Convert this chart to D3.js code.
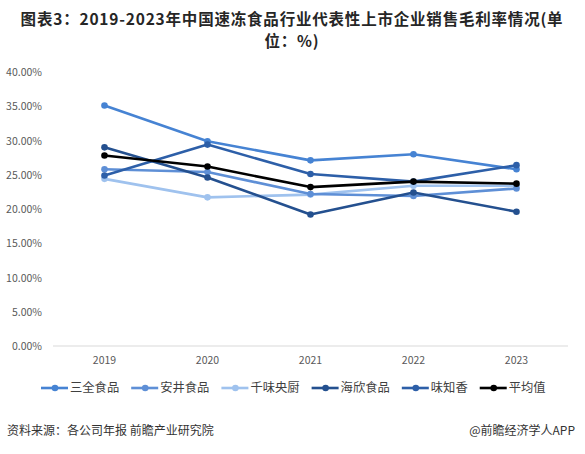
<!DOCTYPE html>
<html><head><meta charset="utf-8">
<script src="https://cdn.jsdelivr.net/npm/d3@7/dist/d3.min.js"></script>
<style>
html,body{margin:0;padding:0;background:#fff;}
svg{display:block;}
text{font-family:"Noto Sans CJK SC","Noto Sans",sans-serif;}
</style></head>
<body>
<script>
const years = ["2019","2020","2021","2022","2023"];
const seriesNames = ["三全食品","安井食品","千味央厨","海欣食品","味知香","平均值"];
const sanquan = [35.1, 29.9, 27.1, 28.0, 25.8];
const anjing  = [25.8, 25.4, 22.2, 21.9, 23.0];
const qianwei = [24.4, 21.7, 22.1, 23.4, 23.4];
const haixin  = [29.0, 24.6, 19.2, 22.4, 19.6];
const weizhixiang = [24.9, 29.4, 25.1, 24.0, 26.4];
const average = [27.8, 26.2, 23.2, 24.0, 23.7];
const yTicks = [0,5,10,15,20,25,30,35,40];
const colors = ["#4683d3","#5e8fd6","#9fc2ee","#24508f","#2d5fa8","#000000"];

const W = 585, H = 454;
const svg = d3.select("body").append("svg").attr("width", W).attr("height", H);

// title (two lines)
const titleLines = ["图表3：2019-2023年中国速冻食品行业代表性上市企业销售毛利率情况(单", "位：%)"];
svg.selectAll("text.title").data(titleLines).join("text").attr("class","title")
  .attr("x",292).attr("y",(d,i)=>25 + i*22).attr("text-anchor","middle")
  .attr("font-size","15.5px").attr("font-weight","bold").attr("letter-spacing","0.8px")
  .attr("fill","#262626").text(d=>d);

const x = d3.scaleBand().domain(years).range([53, 568]);
const y = d3.scaleLinear().domain([0,40]).range([346, 72]);

// y axis labels
const yAxis = d3.axisLeft(y).tickValues(yTicks).tickSize(0).tickPadding(0)
  .tickFormat(d => d.toFixed(2) + "%");
const yg = svg.append("g").attr("transform","translate(42,0)").call(yAxis);
yg.select(".domain").remove();
yg.selectAll("text").attr("font-size","10.5px").attr("fill","#595959")
  .attr("font-family","'Liberation Sans',Arial,sans-serif").attr("dy","0.35em");

// baseline
svg.append("line").attr("x1",53).attr("x2",568).attr("y1",y(0)).attr("y2",y(0))
  .attr("stroke","#d9d9d9").attr("stroke-width",1);

// x axis labels
const xAxis = d3.axisBottom(x).tickSize(0).tickPadding(0);
const xg = svg.append("g").attr("transform","translate(0,360)").call(xAxis);
xg.select(".domain").remove();
xg.selectAll("text").attr("font-size","10.5px").attr("fill","#595959")
  .attr("font-family","'Liberation Sans',Arial,sans-serif").attr("dy","0.35em");

const data = [sanquan, anjing, qianwei, haixin, weizhixiang, average];
const cx = d => x(d) + x.bandwidth()/2;
const line = d3.line().x((v,i) => cx(years[i])).y(v => y(v));

// draw order: lighter first, average on top
const order = [2,1,0,4,3,5];
order.forEach(si => {
  const g = svg.append("g");
  g.append("path").datum(data[si]).attr("d", line).attr("fill","none")
    .attr("stroke", colors[si]).attr("stroke-width", 2.6).attr("stroke-linejoin","round");
  g.selectAll("circle").data(data[si]).join("circle")
    .attr("cx",(v,i)=>cx(years[i])).attr("cy",v=>y(v)).attr("r",3.3).attr("fill",colors[si]);
});

// legend
let lx = 41;
const ly = 388;
seriesNames.forEach((n, i) => {
  const g = svg.append("g");
  g.append("line").attr("x1",lx).attr("x2",lx+27).attr("y1",ly).attr("y2",ly)
    .attr("stroke",colors[i]).attr("stroke-width",2.6);
  g.append("circle").attr("cx",lx+14).attr("cy",ly).attr("r",3.3).attr("fill",colors[i]);
  const t = g.append("text").attr("x",lx+29).attr("y",ly).attr("dy","0.35em")
    .attr("font-size","12.3px").attr("fill","#404040").text(n);
  lx += 29 + t.node().getComputedTextLength() + 12;
});

// footer
svg.append("text").attr("x",7).attr("y",431).attr("dy","0.35em")
  .attr("font-size","12px").attr("fill","#333").text("资料来源：各公司年报 前瞻产业研究院");
svg.append("text").attr("x",575).attr("y",431).attr("dy","0.35em").attr("text-anchor","end")
  .attr("font-size","12px").attr("fill","#333").text("@前瞻经济学人APP");
</script>
</body></html>
